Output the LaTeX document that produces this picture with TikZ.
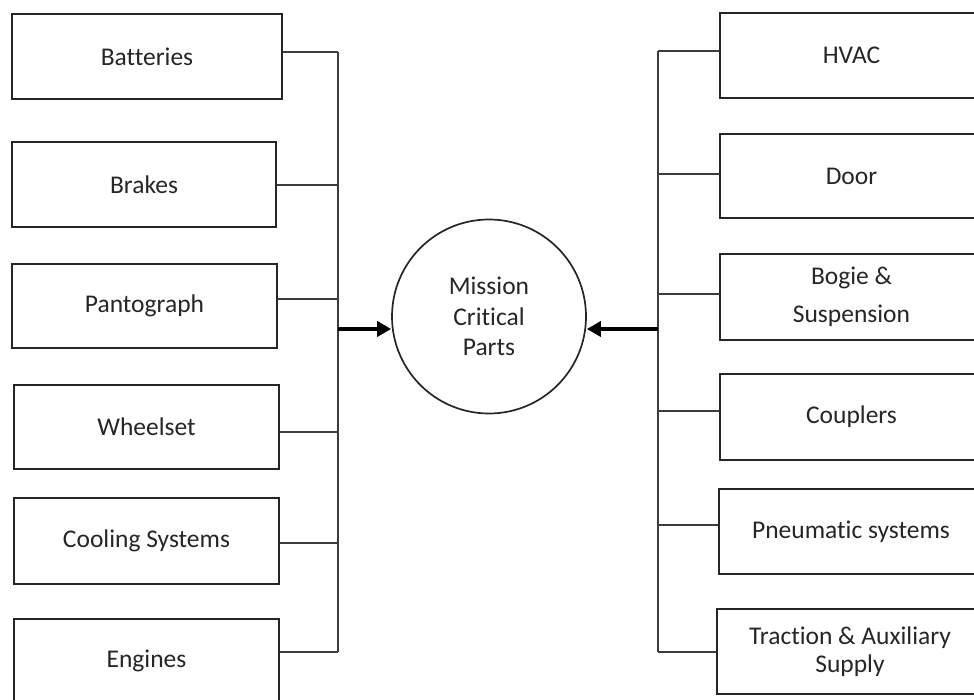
\documentclass[tikz,border=0pt]{standalone}
\usepackage{fontspec}
\setmainfont{Carlito}[Ligatures=NoCommon]
\usetikzlibrary{arrows.meta}
\definecolor{ink}{HTML}{262626}
\definecolor{wire}{HTML}{3C3C3C}
\begin{document}
\begin{tikzpicture}[x=1pt,y=-1pt,
  box/.style={draw=ink, line width=2pt, anchor=north west, inner sep=0pt,
    text=ink, font=\fontsize{25.5}{30.5}\selectfont, align=center},
  hub/.style={circle, draw=ink, line width=1.7pt, minimum size=194pt, inner sep=0pt,
    text=ink, font=\fontsize{25.5}{30.5}\selectfont, align=center},
  wireline/.style={draw=wire, line width=1.1pt},
  feed/.style={draw=black, line width=4.5pt, -{Triangle[length=14pt,width=15pt]}}
]
\useasboundingbox (0,0) rectangle (974,700);
\fill[white] (0,0) rectangle (974,700);

% left boxes
\node[box, minimum width=270pt, minimum height=85pt] (bat) at (11,13) {Batteries};
\node[box, minimum width=264pt, minimum height=85pt] (brk) at (11,141) {Brakes};
\node[box, minimum width=265pt, minimum height=84pt] (pan) at (11,263) {Pantograph};
\node[box, minimum width=265pt, minimum height=84pt] (whl) at (13,384) {Wheelset};
\node[box, minimum width=265pt, minimum height=86pt] (col) at (13,497) {Cooling Systems};
\node[box, minimum width=265pt, minimum height=84pt] (eng) at (13,618) {Engines};

% right boxes
\node[box, minimum width=263pt, minimum height=85pt] (hvac) at (719,12) {HVAC};
\node[box, minimum width=263pt, minimum height=84pt] (door) at (719,133) {Door};
\node[box, minimum width=263pt, minimum height=86pt, font=\fontsize{25.5}{37.7}\selectfont] (bog) at (719,253) {Bogie \&\\Suspension};
\node[box, minimum width=263pt, minimum height=86pt] (cpl) at (719,373) {Couplers};
\node[box, minimum width=264pt, minimum height=85pt] (pne) at (718,488) {Pneumatic systems};
\node[box, minimum width=266pt, minimum height=85pt, font=\fontsize{25.5}{27.5}\selectfont] (trc) at (716,608) {Traction \& Auxiliary\\Supply};

% hub
\node[hub] (mcp) at (489,316.5) {Mission\\Critical\\Parts};

% left bus coordinates
\coordinate (l1) at (338,52);
\coordinate (l2) at (338,185);
\coordinate (l3) at (338,299);
\coordinate (l4) at (338,432);
\coordinate (l5) at (338,543);
\coordinate (l6) at (338,652);
\coordinate (la) at (338,329);

% right bus coordinates
\coordinate (r1) at (658,51);
\coordinate (r2) at (658,174);
\coordinate (r3) at (658,294);
\coordinate (r4) at (658,411);
\coordinate (r5) at (658,525);
\coordinate (r6) at (658,652);
\coordinate (ra) at (658,329);

% left connectors
\draw[wireline] (bat.east |- l1) -- (l1);
\draw[wireline] (brk.east |- l2) -- (l2);
\draw[wireline] (pan.east |- l3) -- (l3);
\draw[wireline] (whl.east |- l4) -- (l4);
\draw[wireline] (col.east |- l5) -- (l5);
\draw[wireline] (eng.east |- l6) -- (l6);
\draw[wireline] (l1) -- (l6);

% right connectors
\draw[wireline] (hvac.west |- r1) -- (r1);
\draw[wireline] (door.west |- r2) -- (r2);
\draw[wireline] (bog.west |- r3) -- (r3);
\draw[wireline] (cpl.west |- r4) -- (r4);
\draw[wireline] (pne.west |- r5) -- (r5);
\draw[wireline] (trc.west |- r6) -- (r6);
\draw[wireline] (r1) -- (r6);

% arrows into hub
\draw[feed] (la) -- (la -| mcp.west);
\draw[feed] (ra) -- (ra -| mcp.east);
\end{tikzpicture}
\end{document}
